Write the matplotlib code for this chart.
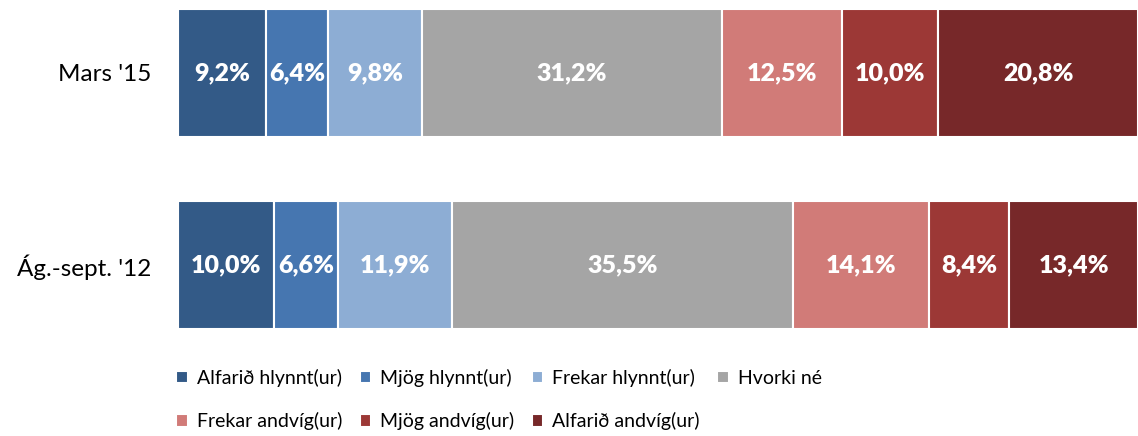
import matplotlib
matplotlib.use('Agg')
import matplotlib.pyplot as plt
import numpy as np

plt.rcParams.update({
    'font.family': ['Lato', 'DejaVu Sans'],
    'font.size': 15,
})

# --- Data ---
periods = ["Ág.-sept. '12", "Mars '15"]
categories = ['Alfarið hlynnt(ur)', 'Mjög hlynnt(ur)', 'Frekar hlynnt(ur)', 'Hvorki né',
              'Frekar andvíg(ur)', 'Mjög andvíg(ur)', 'Alfarið andvíg(ur)']
# values per category, order matches periods
alfarid_hlynnt = [10.0, 9.2]
mjog_hlynnt = [6.6, 6.4]
frekar_hlynnt = [11.9, 9.8]
hvorki = [35.5, 31.2]
frekar_andvig = [14.1, 12.5]
mjog_andvig = [8.4, 10.0]
alfarid_andvig = [13.4, 20.8]

series = [alfarid_hlynnt, mjog_hlynnt, frekar_hlynnt, hvorki,
          frekar_andvig, mjog_andvig, alfarid_andvig]
colors = ['#335A87', '#4676B0', '#8DADD4', '#A5A5A5',
          '#D17B78', '#9C3836', '#772829']

fig = plt.figure(figsize=(11.38, 4.36), dpi=100)
ax = fig.add_axes([0.1564, 0.2454, 0.8436, 0.734])

y = np.arange(len(periods))
left = np.zeros(len(periods))
handles = []
for vals, col, lab in zip(series, colors, categories):
    vals = np.array(vals)
    bars = ax.barh(y, vals, left=left, height=0.667, color=col,
                   edgecolor='white', linewidth=1.5, label=lab)
    handles.append(bars)
    for yi, (l, v) in enumerate(zip(left, vals)):
        ax.text(l + v / 2, yi, f'{v:.1f}%'.replace('.', ','), ha='center', va='center',
                color='white', fontweight='heavy', fontsize=18)
    left += vals

ax.set_xlim(0, left.max())
ax.set_ylim(-0.333, 1.333)
ax.set_yticks(y)
ax.set_yticklabels(periods, fontsize=17.5)
ax.tick_params(axis='y', length=0, pad=19)
ax.set_xticks([])
for s in ax.spines.values():
    s.set_visible(False)

# legend: row-major order in 4 columns
order = [0, 4, 1, 5, 2, 6, 3]
fig.legend([handles[i] for i in order], [categories[i] for i in order],
           loc='upper left', bbox_to_anchor=(0.155, 0.154), ncol=4, frameon=False,
           fontsize=14, handlelength=0.6, handleheight=0.6, handletextpad=0.45,
           columnspacing=0.9, labelspacing=1.3, borderpad=0, borderaxespad=0)

fig.savefig('out.png', dpi=100)
